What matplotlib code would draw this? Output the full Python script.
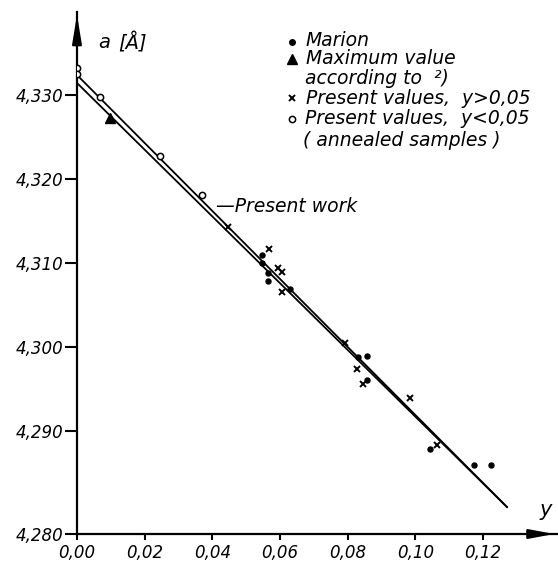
import numpy as np
import matplotlib
matplotlib.use('Agg')
import matplotlib.pyplot as plt

plt.rcParams['font.family'] = ['DejaVu Sans']
plt.rcParams['font.style'] = 'italic'

# data: y (composition) and a (lattice constant, Angstrom)
marion_y = [0.0546, 0.0546, 0.0565, 0.0565, 0.0630, 0.0831, 0.0856, 0.0856, 0.1043, 0.1173, 0.1225]
marion_a = [4.31095, 4.30996, 4.30885, 4.30790, 4.30687, 4.29884, 4.29893, 4.29607, 4.28786, 4.28595, 4.28595]

max_y = [0.0098]
max_a = [4.3273]

high_y = [0.0447, 0.0568, 0.0595, 0.0605, 0.0605, 0.0792, 0.0829, 0.0846, 0.0984, 0.1065]
high_a = [4.31432, 4.31167, 4.30940, 4.30890, 4.30658, 4.30044, 4.29735, 4.29560, 4.29389, 4.28833]

low_y = [0.0, 0.0, 0.0068, 0.0245, 0.0369]
low_a = [4.33321, 4.3325, 4.32976, 4.32274, 4.3181]

# the two straight lines (present work and the lower fit)
line_y = [0.0, 0.1271]
work_a = [4.33238, 4.28095]
lower_a = [4.33143, 4.28095]

yticks = [4.290, 4.300, 4.310, 4.320, 4.330]
xticks = [0.00, 0.02, 0.04, 0.06, 0.08, 0.10, 0.12]

W, H = 558, 561
def px(x, y):
    return x / W, 1 - y / H

fig = plt.figure(figsize=(W / 100, H / 100), dpi=100)
ax = fig.add_axes([77 / W, 27 / H, (557 - 77) / W, (534 - 12) / H])

ax.set_xlim(0, (557 - 77) / 3383)
ybot = 4.330 - (534 - 95) / 8400
ax.set_ylim(ybot, 4.330 + (95 - 12) / 8400)

ax.plot(line_y, work_a, color='k', lw=1.3)
ax.plot(line_y, lower_a, color='k', lw=1.3)

ax.plot(marion_y, marion_a, 'o', color='k', ms=3.6, ls='none')
ax.plot(max_y, max_a, '^', color='k', ms=7, ls='none')
ax.plot(high_y, high_a, 'x', color='k', ms=5, mew=1.4, ls='none')
ax.plot(low_y, low_a, 'o', mfc='white', mec='k', ms=4.5, mew=1.1, ls='none', zorder=5)

for s in ['top', 'right']:
    ax.spines[s].set_visible(False)
for s in ['left', 'bottom']:
    ax.spines[s].set_linewidth(1.6)

# arrow heads on both axes
ax.annotate('', xy=(0, 1), xytext=(0, 0.95), xycoords='axes fraction',
            arrowprops=dict(arrowstyle='-|>,head_length=1.7,head_width=0.28', color='k', lw=1.6))
ax.annotate('', xy=(1, 0), xytext=(0.94, 0), xycoords='axes fraction',
            arrowprops=dict(arrowstyle='-|>,head_length=1.5,head_width=0.28', color='k', lw=1.6))

ax.set_yticks([ybot] + yticks)
ax.set_yticklabels(['4,280'] + [('%.3f' % v).replace('.', ',') for v in yticks])
ax.set_xticks(xticks)
ax.set_xticklabels([('%.2f' % v).replace('.', ',') for v in xticks])
ax.tick_params(axis='y', direction='out', length=9, width=1.5, labelsize=12, pad=1)
ax.tick_params(axis='x', direction='out', length=4, width=1.5, labelsize=12, pad=3)

fig.text(*px(98, 43), 'a', fontsize=14, va='center', ha='left')
fig.text(*px(118, 43), '[Å]', fontsize=14, va='center', ha='left')
fig.text(*px(540, 510), 'y', fontsize=15, va='center', ha='left')

# present work label
fig.text(*px(216, 207), '—Present work', fontsize=13.5, va='center', ha='left')

# legend
fs = 13.5
fig.text(*px(306, 40), 'Marion', fontsize=fs, va='center', ha='left')
fig.text(*px(306, 59), 'Maximum value', fontsize=fs, va='center', ha='left')
fig.text(*px(305, 78), 'according to  ²)', fontsize=fs, va='center', ha='left')
fig.text(*px(306, 98), 'Present values,  y>0,05', fontsize=fs, va='center', ha='left')
fig.text(*px(305, 119), 'Present values,  y<0,05', fontsize=fs, va='center', ha='left')
fig.text(*px(303, 140), '( annealed samples )', fontsize=fs, va='center', ha='left')

fig.add_artist(plt.Line2D([292 / W], [1 - 42 / H], marker='o', color='k', ms=4))
fig.add_artist(plt.Line2D([292 / W], [1 - 59 / H], marker='^', color='k', ms=6.5))
fig.add_artist(plt.Line2D([292 / W], [1 - 98 / H], marker='x', color='k', ms=4, mew=1.4))
fig.add_artist(plt.Line2D([292 / W], [1 - 119 / H], marker='o', mfc='white', mec='k', ms=4.5, mew=1.1))

fig.savefig('out.png', dpi=100)
